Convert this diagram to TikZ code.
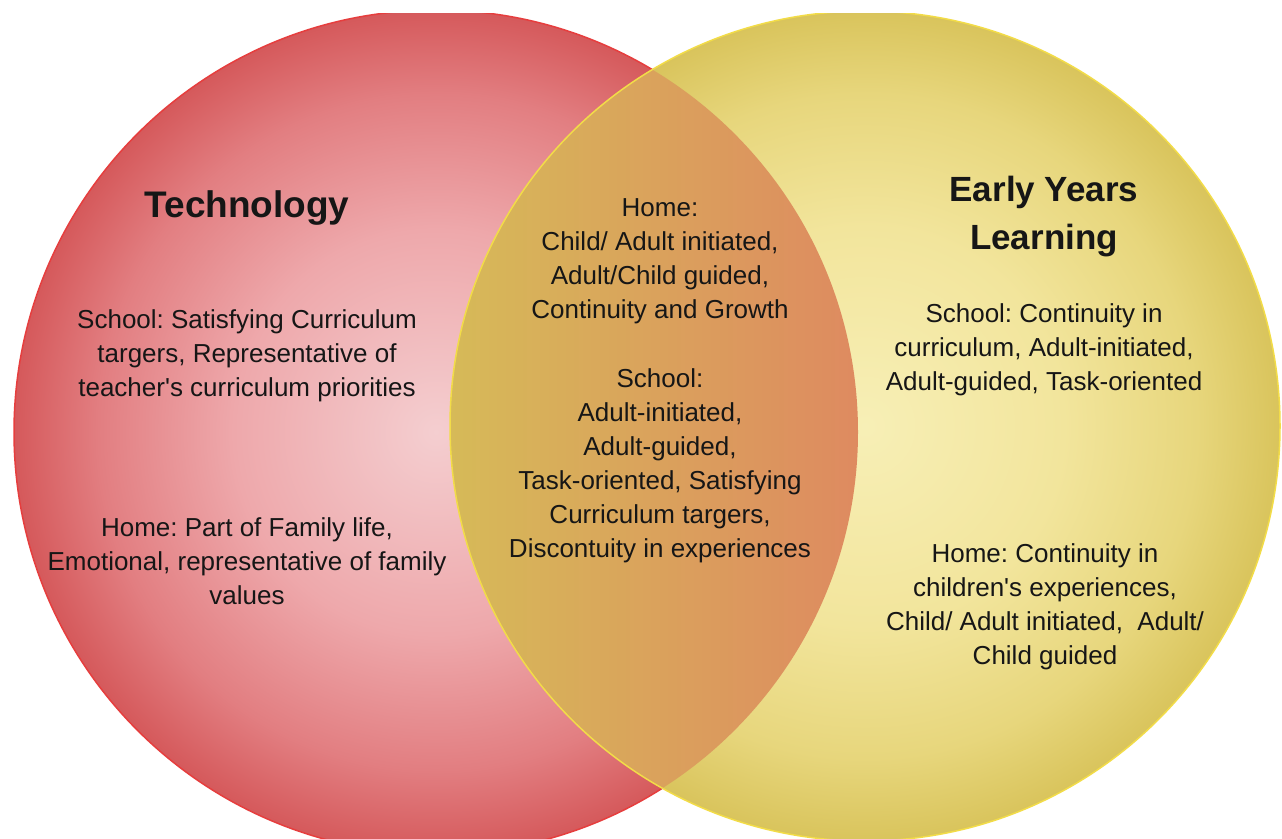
\documentclass[tikz,border=0pt]{standalone}
\usepackage{fontspec}
\setmainfont{Liberation Sans}
\frenchspacing
\definecolor{rA}{HTML}{F4CED0}
\definecolor{rB}{HTML}{EEA8AB}
\definecolor{rC}{HTML}{E27E81}
\definecolor{rD}{HTML}{D5595B}
\definecolor{yA}{HTML}{F7EFB6}
\definecolor{yB}{HTML}{F2E59C}
\definecolor{yC}{HTML}{E7D67C}
\definecolor{yD}{HTML}{D9C45C}
\definecolor{redline}{HTML}{E63E3E}
\definecolor{yelline}{HTML}{F2DC48}
\definecolor{lensL}{HTML}{D6BA58}
\definecolor{lensM}{HTML}{ECBD80}
\definecolor{lensR}{HTML}{DE8A60}
\definecolor{txtc}{HTML}{161616}
\pgfdeclareradialshading{redsh}{\pgfpoint{0bp}{0bp}}{color(0bp)=(rA); color(12bp)=(rB); color(20bp)=(rC); color(25bp)=(rD); color(50bp)=(rD)}
\pgfdeclareradialshading{yelsh}{\pgfpoint{0bp}{0bp}}{color(0bp)=(yA); color(12bp)=(yB); color(20bp)=(yC); color(25bp)=(yD); color(50bp)=(yD)}
\begin{document}
\begin{tikzpicture}[x=1pt,y=-1pt,
  txt/.style={font=\fontsize{26}{34}\selectfont, align=center, text=txtc, inner sep=0pt},
  ttl/.style={font=\fontsize{37}{48}\selectfont\bfseries, align=center, text=txtc, inner sep=0pt}]
\fill[white] (0,0) rectangle (1282,838);
\useasboundingbox (0,0) rectangle (1282,838);
\begin{scope}
  \clip (0,13) rectangle (1282,838);
  \shade[shading=redsh] (436,432) circle[radius=422pt];
  \draw[redline, line width=1.5pt] (436,432) circle[radius=422pt];
  \shade[shading=yelsh] (865,426) circle[radius=415pt];
  \begin{scope}
    \clip (436,432) circle[radius=422pt];
    \clip (865,426) circle[radius=415pt];
    \shade[left color=lensL, middle color=lensM, right color=lensR] (450,0) rectangle (860,838);
  \end{scope}
  \draw[yelline, line width=1.5pt] (865,426) circle[radius=415pt];
\end{scope}
\node[ttl] (tech) at (247,208) {Technology};
\node[txt] (techschool) at (247,356) {School: Satisfying Curriculum\\targers, Representative of\\teacher\textquotesingle s curriculum priorities};
\node[txt] (techhome) at (247,561) {Home: Part of Family life,\\Emotional, representative of family\\values};
\node[txt] (midhome) at (660,261) {Home:\\Child/ Adult initiated,\\Adult/Child guided,\\Continuity and Growth};
\node[txt] (midschool) at (660,466) {School:\\Adult-initiated,\\Adult-guided,\\Task-oriented, Satisfying\\Curriculum targers,\\Discontuity in experiences};
\node[ttl, font=\fontsize{35}{48}\selectfont\bfseries] (eyl) at (1044,217) {Early Years\\Learning};
\node[txt] (eylschool) at (1044,350) {School: Continuity in\\curriculum, Adult-initiated,\\Adult-guided, Task-oriented};
\node[txt] (eylhome) at (1045,607) {Home: Continuity in\\children\textquotesingle s experiences,\\Child/ Adult initiated,\ \ Adult/\\Child guided};
\end{tikzpicture}
\end{document}
